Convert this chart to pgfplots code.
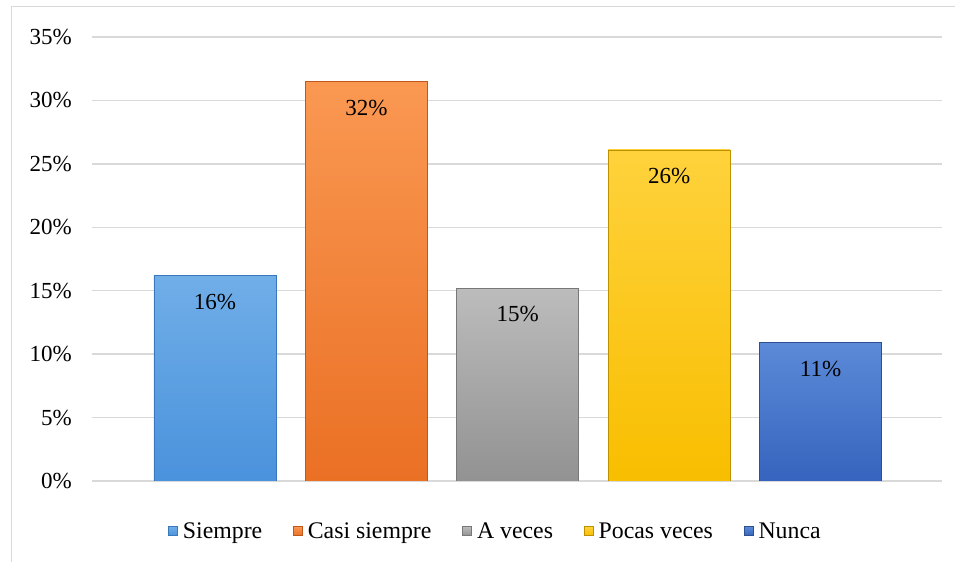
\documentclass[border=0pt]{standalone}
\usepackage{pgfplots}
\pgfplotsset{compat=1.18}
\usepackage{fontspec}
\setmainfont{Liberation Serif}
\definecolor{gridc}{HTML}{D9D9D9}
\definecolor{aT}{RGB}{112,174,232}\definecolor{aB}{RGB}{74,146,220}\definecolor{aD}{RGB}{58,120,190}
\definecolor{bT}{RGB}{250,152,82}\definecolor{bB}{RGB}{234,112,36}\definecolor{bD}{RGB}{190,88,28}
\definecolor{cT}{RGB}{188,188,188}\definecolor{cB}{RGB}{146,146,146}\definecolor{cD}{RGB}{120,120,120}
\definecolor{dT}{RGB}{255,210,60}\definecolor{dB}{RGB}{248,190,0}\definecolor{dD}{RGB}{190,145,0}
\definecolor{eT}{RGB}{92,138,216}\definecolor{eB}{RGB}{54,100,190}\definecolor{eD}{RGB}{46,80,143}
\pgfplotsset{barsty/.style n args={3}{bar shift=0pt, top color=#1, bottom color=#2, draw=#3, line width=0.8bp,
  legend image code/.code={\path[top color=#1, bottom color=#2, draw=#3, line width=0.6bp] (0bp,-4.5bp) rectangle (9bp,4.5bp);}}}
\begin{document}
\begin{tikzpicture}[font=\fontsize{23bp}{27bp}\selectfont]
\path[use as bounding box, clip] (0,0) rectangle (955bp,562bp);
\draw[color=gridc, line width=1.2bp] (11.5bp,-20bp) rectangle (980bp,555.5bp);
\begin{axis}[
  at={(92bp,81bp)}, anchor=south west, scale only axis,
  width=850bp, height=444bp,
  xmin=-0.812, xmax=4.802, ymin=0, ymax=35,
  ybar, bar width=0.806,
  axis line style={draw=none},
  major tick length=0pt,
  xtick=\empty,
  ytick={0,5,...,35},
  ymajorgrids,
  grid style={color=gridc, line width=1.3bp},
  yticklabel={\pgfmathprintnumber{\tick}\%},
  /pgf/number format/assume math mode=true,
  yticklabel style={anchor=east, inner sep=0pt, xshift=-20bp},
  nodes near coords,
  point meta=explicit symbolic,
  every node near coord/.append style={anchor=north, inner sep=0pt, yshift=-18bp, text=black},
  legend style={draw=none, fill=none, at={(405bp,-50bp)}, anchor=center,
    legend columns=-1, inner xsep=0pt,
    font=\fontsize{23.8bp}{27bp}\selectfont,
    nodes={inner xsep=5bp},
    /tikz/every even column/.append style={column sep=26bp}},
  legend cell align=left,
]
\addplot[barsty={aT}{aB}{aD}] coordinates {(0,16.2) [16\%]};
\addlegendentry{Siempre}
\addplot[barsty={bT}{bB}{bD}] coordinates {(1,31.5) [32\%]};
\addlegendentry{Casi siempre}
\addplot[barsty={cT}{cB}{cD}] coordinates {(2,15.2) [15\%]};
\addlegendentry{A veces}
\addplot[barsty={dT}{dB}{dD}] coordinates {(3,26.1) [26\%]};
\addlegendentry{Pocas veces}
\addplot[barsty={eT}{eB}{eD}] coordinates {(4,10.9) [11\%]};
\addlegendentry{Nunca}
\end{axis}
\end{tikzpicture}
\end{document}
